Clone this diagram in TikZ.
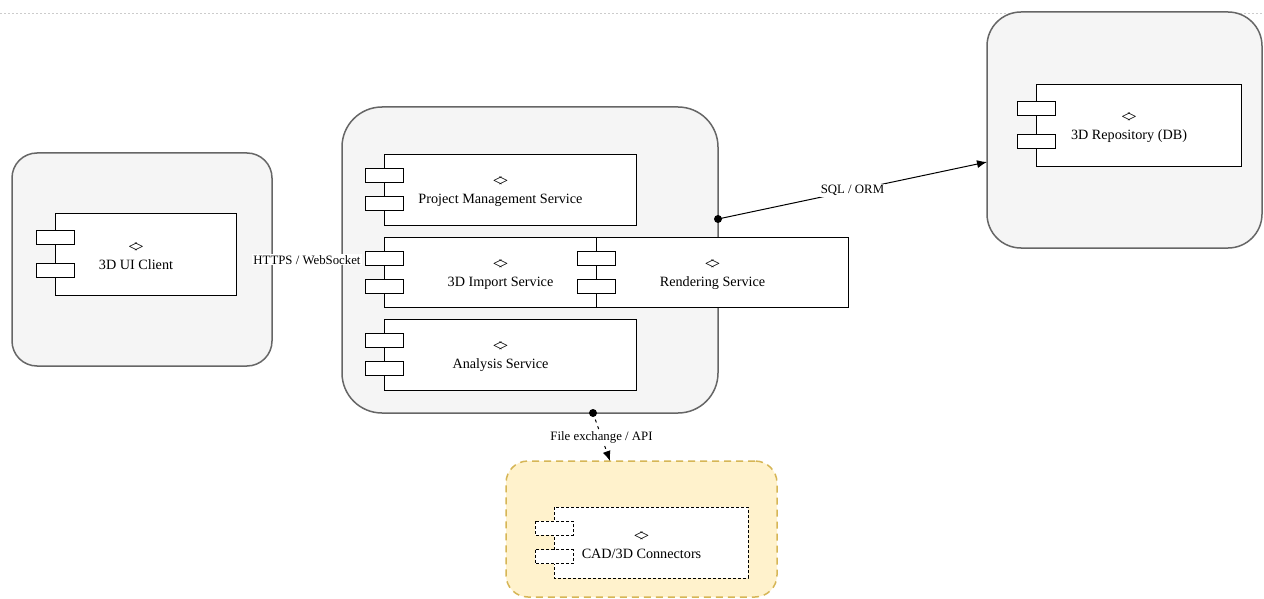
\documentclass[tikz,border=0pt]{standalone}
\usepackage{fontspec}
\setmainfont{Liberation Serif}
\usetikzlibrary{arrows.meta,calc}
\definecolor{contfill}{HTML}{F5F5F5}
\definecolor{contdraw}{HTML}{666666}
\definecolor{yfill}{HTML}{FFF2CC}
\definecolor{ydraw}{HTML}{D6B656}
\definecolor{pageline}{HTML}{CCCCCC}
\newcommand{\dmd}{{\fontsize{17}{17}\selectfont <\kern-0.22em>}}
% #1 extra style, #2 name, #3 port-left x, #4 top y, #5 right x, #6 bottom y, #7 text
\newcommand{\comp}[7][]{%
  \draw[compline,#1] ({#3+19},#4) rectangle (#5,#6);
  \draw[compline,#1] (#3,{#4+0.3*(#6-#4)-7}) rectangle ++(38,14);
  \draw[compline,#1] (#3,{#4+0.7*(#6-#4)-7}) rectangle ++(38,14);
  \node[comptext, minimum width={(#5-#3)*1pt}, minimum height={(#6-#4)*1pt}] (#2)
    at ({(#3+#5)/2},{(#4+#6)/2}) {\dmd\\#7};
}
\begin{document}
\begin{tikzpicture}[x=1pt,y=-1pt,
  container/.style={draw=contdraw, fill=contfill, line width=1.5pt, inner sep=0pt, outer sep=0pt, anchor=north west},
  yellowbox/.style={draw=ydraw, fill=yfill, line width=1.5pt, dash pattern=on 7pt off 5pt, inner sep=0pt, outer sep=0pt, anchor=north west},
  compline/.style={draw=black, fill=white, line width=0.9pt},
  dashedcomp/.style={dash pattern=on 3pt off 2pt},
  comptext/.style={draw=none, inner sep=0pt, outer sep=0pt, align=center, yshift=-2.3pt, font=\fontsize{14.2}{17}\selectfont},
  conn/.style={draw=black, line width=1pt},
  lbl/.style={fill=white, inner sep=1pt, font=\fontsize{12.8}{14}\selectfont},
  tip/.style={-{Latex[length=10pt,width=8pt]}}
]
\useasboundingbox (0,0) rectangle (1264,599);
\fill[white] (0,0) rectangle (1264,599);
\draw[pageline, line width=0.8pt, dash pattern=on 2pt off 2pt] (0,13) -- (1264,13);

% containers
\node[container, rounded corners=25pt, minimum width=260pt, minimum height=213pt] (client) at (12,153) {};
\node[container, rounded corners=40pt, minimum width=376pt, minimum height=306pt] (server) at (342,107) {};
\node[container, rounded corners=34pt, minimum width=275pt, minimum height=236pt] (repo) at (987,12) {};
\node[yellowbox, rounded corners=22pt, minimum width=271pt, minimum height=136pt] (conn) at (506,461) {};

% components
\comp{ui}{36}{213}{236}{295}{3D UI Client}
\comp{pms}{365}{154}{636}{225}{Project Management Service}
\comp{imp}{365}{237}{636}{307}{3D Import Service}
\comp{rend}{577}{237}{848}{307}{Rendering Service}
\comp{ana}{365}{319}{636}{390}{Analysis Service}
\comp{repodb}{1017}{84}{1241}{166}{3D Repository (DB)}
\comp[dashedcomp]{cad}{535}{507}{748}{578}{CAD/3D Connectors}

% connectors
\draw[conn] (client) -- (server) node[midway, lbl] {HTTPS / WebSocket};
\draw[conn, tip] ([yshift=41pt]server.east) -- ([yshift=-32pt]repo.west) node[midway, lbl] {SQL / ORM};
\fill ([yshift=41pt]server.east) circle (4pt);
\draw[conn, tip, dash pattern=on 3pt off 4pt] ([xshift=63pt]server.south) -- ([xshift=-31.5pt]conn.north) node[midway, lbl] {File exchange / API};
\fill ([xshift=63pt]server.south) circle (4pt);
\end{tikzpicture}
\end{document}
